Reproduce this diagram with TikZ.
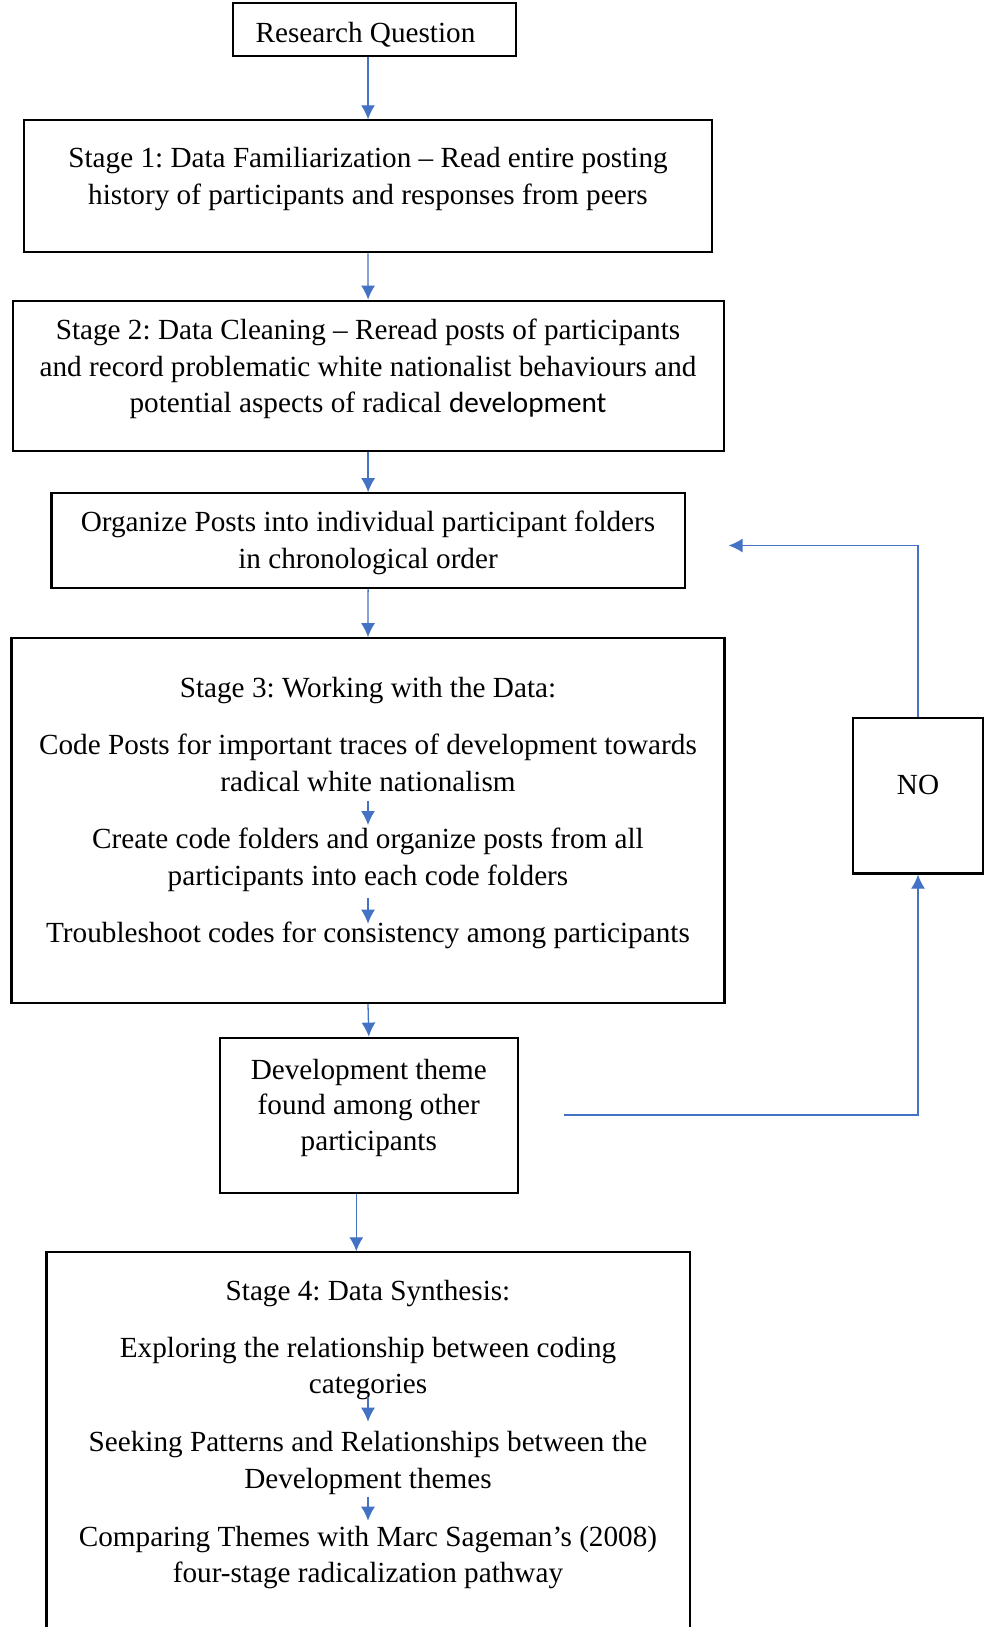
\documentclass[tikz,border=0pt]{standalone}
\usepackage{fontspec}
\setmainfont{Liberation Serif}
\newfontfamily\calfont{Carlito}
\usetikzlibrary{arrows.meta}
\definecolor{lblue}{HTML}{4472C4}
\frenchspacing
\begin{document}
\begin{tikzpicture}[x=1pt,y=-1pt,
  box/.style={draw=black, line width=2.2pt, inner sep=0pt, rectangle},
  txt/.style={anchor=base, inner sep=0pt, font=\fontsize{29.2}{37}\selectfont},
  arr/.style={draw=lblue, line width=1.3pt, -{Latex[length=14pt,width=14pt]}},
  fb/.style={draw=lblue, line width=1.3pt}]
\useasboundingbox (0,0) rectangle (985,1627);
\fill[white] (0,0) rectangle (985,1627);
% boxes
\node[box, minimum width=283pt, minimum height=53pt] (rq) at (374.5,29.5) {};
\node[box, minimum width=688pt, minimum height=131.8pt] (s1) at (368,186.3) {};
\node[box, minimum width=711pt, minimum height=150pt] (s2) at (368.1,375.7) {};
\node[box, minimum width=633.2pt, minimum height=95pt] (org) at (368.1,540.8) {};
\node[box, minimum width=713.1pt, minimum height=364.7pt] (s3) at (368,820.6) {};
\node[box, minimum width=297.6pt, minimum height=155pt] (dev) at (368.8,1115.2) {};
\node[box, minimum width=130pt, minimum height=155.3pt] (no) at (918,795.9) {};
\node[box, minimum width=643.2pt, minimum height=407.7pt] (s4) at (368.1,1456.2) {};
% texts
\node[txt] (trq) at (365.5,43) {Research Question};
\node[txt] (t1a) at (368,167) {Stage 1: Data Familiarization -- Read entire posting};
\node[txt] (t1b) at (368,204) {history of participants and responses from peers};
\node[txt] (t2a) at (368,339.3) {Stage 2: Data Cleaning -- Reread posts of participants};
\node[txt] (t2b) at (368,376) {and record problematic white nationalist behaviours and};
\node[txt] (t2c) at (368,412.7) {potential aspects of radical {\calfont development}};
\node[txt] (toa) at (368,531.7) {Organize Posts into individual participant folders};
\node[txt] (tob) at (368,568.7) {in chronological order};
\node[txt] (t3a) at (368,697.5) {Stage 3: Working with the Data:};
\node[txt] (t3b) at (368,754) {Code Posts for important traces of development towards};
\node[txt] (t3c) at (368,791) {radical white nationalism};
\node[txt] (t3d) at (368,848.7) {Create code folders and organize posts from all};
\node[txt] (t3e) at (368,885) {participants into each code folders};
\node[txt] (t3f) at (368,942.7) {Troubleshoot codes for consistency among participants};
\node[txt] (tda) at (368.8,1079) {Development theme};
\node[txt] (tdb) at (368.8,1114.5) {found among other};
\node[txt] (tdc) at (368.8,1150) {participants};
\node[txt] (tno) at (918,794.3) {NO};
\node[txt] (t4a) at (368,1300.3) {Stage 4: Data Synthesis:};
\node[txt] (t4b) at (368,1357.7) {Exploring the relationship between coding};
\node[txt] (t4c) at (368,1393.7) {categories};
\node[txt] (t4d) at (368,1451.7) {Seeking Patterns and Relationships between the};
\node[txt] (t4e) at (368,1488.3) {Development themes};
\node[txt] (t4f) at (368,1546) {Comparing Themes with Marc Sageman’s (2008)};
\node[txt] (t4g) at (368,1582.7) {four-stage radicalization pathway};
% main arrows
\draw[arr] (s1.north |- rq.south) -- (s1.north);
\draw[arr] (s1.south) -- (s2.north);
\draw[arr] (s2.south) -- (org.north);
\draw[arr] (org.south) -- (s3.north);
\draw[arr] (s3.south) -- (dev.north);
\draw[arr] ([xshift=-12.5pt]dev.south) -- ([xshift=-12.5pt]dev.south |- s4.north);
% inner arrows
\draw[arr] ([yshift=-10pt]t3c.base) -- ([yshift=23.7pt]t3d.base);
\draw[arr] ([yshift=-13pt]t3e.base) -- ([yshift=19pt]t3f.base);
\draw[arr] ([yshift=-3pt]t4c.base) -- ([yshift=30pt]t4d.base);
\draw[arr] ([yshift=-8.4pt]t4e.base) -- ([yshift=25.3pt]t4f.base);
% feedback loop
\coordinate (fbs) at (563.8,1115);
\coordinate (fbe) at (728.6,545.5);
\draw[arr] (fbs) -| (no.south);
\draw[arr] (no.north) |- (fbe);
\end{tikzpicture}
\end{document}
